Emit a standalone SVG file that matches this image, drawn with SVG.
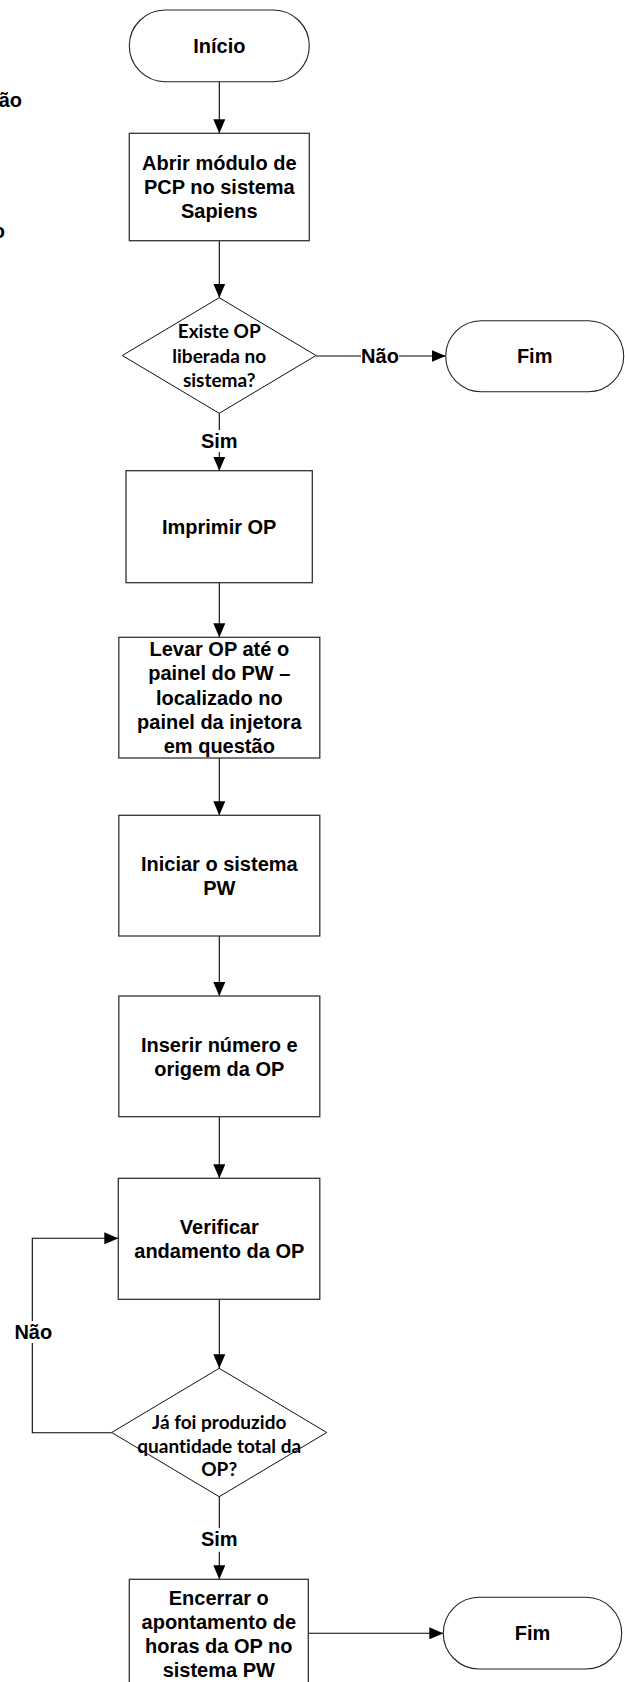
<svg xmlns="http://www.w3.org/2000/svg" width="625" height="1682" viewBox="0 0 625 1682">
  <defs>
    <marker id="arrow" viewBox="0 0 14 12" refX="14" refY="6" markerWidth="14" markerHeight="12" markerUnits="userSpaceOnUse" orient="auto">
      <path d="M0,0 L14,6 L0,12 Z" fill="#000"/>
    </marker>
    <style>
      .box { fill: #fff; stroke: #333; stroke-width: 1.3; }
      .term { fill: #fff; stroke: #222; stroke-width: 1.1; }
      .dec { fill: #fff; stroke: #111; stroke-width: 1; }
      .conn { fill: none; stroke: #000; stroke-width: 1.1; }
      .lbl { font-family: "Liberation Sans", Arial, sans-serif; font-weight: bold; font-size: 20px; fill: #000; text-anchor: middle; }
      .dlbl { font-family: Lato, "Open Sans", sans-serif; font-weight: bold; font-size: 19px; fill: #000; text-anchor: middle; font-variant-ligatures: none; font-feature-settings: "liga" 0, "clig" 0; }
      .cut { text-anchor: end; }
    </style>
  </defs>
  <rect width="625" height="1682" fill="#fff"/>

  <!-- fragments of a neighbouring column, cut by the left edge -->
  <text class="lbl cut" x="22" y="107">ão</text>
  <text class="lbl cut" x="5" y="238">o</text>

  <!-- connectors -->
  <g id="connectors">
    <line class="conn" x1="219.3" y1="81.7" x2="219.3" y2="133.3" marker-end="url(#arrow)"/>
    <line class="conn" x1="219.3" y1="240.7" x2="219.3" y2="297.7" marker-end="url(#arrow)"/>
    <!-- decision 1: Não -->
    <line class="conn" x1="316" y1="356" x2="361" y2="356"/>
    <line class="conn" x1="399" y1="356" x2="445.7" y2="356" marker-end="url(#arrow)"/>
    <text class="lbl" x="380" y="363">Não</text>
    <!-- decision 1: Sim -->
    <line class="conn" x1="219.3" y1="413.3" x2="219.3" y2="430"/>
    <line class="conn" x1="219.3" y1="452" x2="219.3" y2="470.7" marker-end="url(#arrow)"/>
    <text class="lbl" x="219.3" y="448">Sim</text>
    <line class="conn" x1="219.3" y1="582.7" x2="219.3" y2="637.3" marker-end="url(#arrow)"/>
    <line class="conn" x1="219.3" y1="758" x2="219.3" y2="815.3" marker-end="url(#arrow)"/>
    <line class="conn" x1="219.3" y1="936" x2="219.3" y2="996" marker-end="url(#arrow)"/>
    <line class="conn" x1="219.3" y1="1116.7" x2="219.3" y2="1178.3" marker-end="url(#arrow)"/>
    <line class="conn" x1="219.3" y1="1299.3" x2="219.3" y2="1368.3" marker-end="url(#arrow)"/>
    <!-- decision 2: Não (loop back) -->
    <polyline class="conn" points="111.7,1432.7 32.3,1432.7 32.3,1343"/>
    <polyline class="conn" points="32.3,1321 32.3,1238.3 118.3,1238.3" marker-end="url(#arrow)"/>
    <text class="lbl" x="33.3" y="1338.7">Não</text>
    <!-- decision 2: Sim -->
    <line class="conn" x1="219.3" y1="1496.7" x2="219.3" y2="1528.3"/>
    <line class="conn" x1="219.3" y1="1551.7" x2="219.3" y2="1579.3" marker-end="url(#arrow)"/>
    <text class="lbl" x="219.3" y="1546">Sim</text>
    <line class="conn" x1="308.3" y1="1633.3" x2="443.3" y2="1633.3" marker-end="url(#arrow)"/>
  </g>

  <g id="inicio">
    <rect class="term" x="129.3" y="10" width="180" height="71.7" rx="35.85" ry="35.85"/>
    <text class="lbl" x="219.3" y="52.9">Início</text>
  </g>

  <g id="abrir-modulo">
    <rect class="box" x="129.3" y="133.3" width="180" height="107.4"/>
    <text class="lbl" x="219.3" y="170">Abrir módulo de</text>
    <text class="lbl" x="219.3" y="194">PCP no sistema</text>
    <text class="lbl" x="219.3" y="218">Sapiens</text>
  </g>

  <g id="existe-op">
    <polygon class="dec" points="219.2,297.7 316,355.5 219.2,413.3 122.3,355.5"/>
    <text class="dlbl" x="219.2" y="338">Existe OP</text>
    <text class="dlbl" x="219.2" y="362.5">liberada no</text>
    <text class="dlbl" x="219.2" y="387">sistema?</text>
  </g>

  <g id="fim-1">
    <rect class="term" x="445.7" y="320.7" width="178" height="71" rx="35.5" ry="35.5"/>
    <text class="lbl" x="534.7" y="363">Fim</text>
  </g>

  <g id="imprimir-op">
    <rect class="box" x="126" y="470.7" width="186.3" height="112"/>
    <text class="lbl" x="219.2" y="533.7">Imprimir OP</text>
  </g>

  <g id="levar-op">
    <rect class="box" x="118.8" y="637.3" width="201" height="120.7"/>
    <text class="lbl" x="219.3" y="656.1">Levar OP até o</text>
    <text class="lbl" x="219.3" y="680.4">painel do PW –</text>
    <text class="lbl" x="219.3" y="704.7">localizado no</text>
    <text class="lbl" x="219.3" y="729">painel da injetora</text>
    <text class="lbl" x="219.3" y="753.3">em questão</text>
  </g>

  <g id="iniciar-pw">
    <rect class="box" x="118.8" y="815.3" width="201" height="120.7"/>
    <text class="lbl" x="219.3" y="870.5">Iniciar o sistema</text>
    <text class="lbl" x="219.3" y="894.5">PW</text>
  </g>

  <g id="inserir-numero">
    <rect class="box" x="118.8" y="996" width="201" height="120.7"/>
    <text class="lbl" x="219.3" y="1051.5">Inserir número e</text>
    <text class="lbl" x="219.3" y="1075.5">origem da OP</text>
  </g>

  <g id="verificar-andamento">
    <rect class="box" x="118.3" y="1178.3" width="201.5" height="121"/>
    <text class="lbl" x="219.3" y="1233.7">Verificar</text>
    <text class="lbl" x="219.3" y="1257.7">andamento da OP</text>
  </g>

  <g id="quantidade-total">
    <polygon class="dec" points="219.2,1368.3 326.7,1432.5 219.2,1496.7 111.7,1432.5"/>
    <text class="dlbl" x="219.2" y="1428.5">Já foi produzido</text>
    <text class="dlbl" x="219.2" y="1452.5">quantidade total da</text>
    <text class="dlbl" x="219.2" y="1475.5">OP?</text>
  </g>

  <g id="encerrar-apontamento">
    <rect class="box" x="129.3" y="1579.3" width="179" height="108"/>
    <text class="lbl" x="218.8" y="1604.5">Encerrar o</text>
    <text class="lbl" x="218.8" y="1628.5">apontamento de</text>
    <text class="lbl" x="218.8" y="1652.5">horas da OP no</text>
    <text class="lbl" x="218.8" y="1676.5">sistema PW</text>
  </g>

  <g id="fim-2">
    <rect class="term" x="443.3" y="1597.3" width="178.4" height="71.7" rx="35.85" ry="35.85"/>
    <text class="lbl" x="532.5" y="1640.3">Fim</text>
  </g>
</svg>
